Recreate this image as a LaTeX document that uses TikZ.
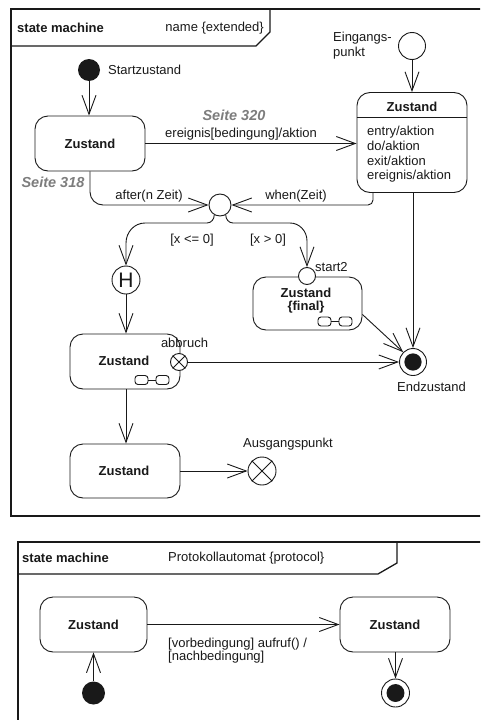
\documentclass[tikz,border=0pt]{standalone}
\usepackage{fontspec}
\setmainfont{Liberation Sans}
\usetikzlibrary{arrows.meta,calc}
\definecolor{ink}{RGB}{25,25,25}
\definecolor{pagegray}{RGB}{125,125,125}

\begin{document}
\begin{tikzpicture}[x=1pt,y=-1pt,
  every node/.style={font=\fontsize{13}{14.5}\selectfont, inner sep=0pt, text=ink},
  wire/.style={draw=ink, line width=0.9pt},
  frame/.style={draw=ink, line width=1.3pt},
  arr/.style={wire, -{Straight Barb[length=19pt,width=14pt]}},
  zstate/.style={wire, rounded corners=13pt, minimum width=#1, minimum height=55pt},
  zstate/.default=110pt,
  bold/.style={font=\bfseries\fontsize{13}{14.5}\selectfont},
  seite/.style={text=pagegray, font=\bfseries\itshape\fontsize{14.5}{16}\selectfont},
  dot/.style={circle, fill=ink, minimum size=#1},
  pseudo/.style={circle, wire, fill=white, minimum size=#1},
  finalst/.style={circle, wire, fill=white, minimum size=#1,
    path picture={\fill[ink] (path picture bounding box.center) circle (#1*0.32);}},
  glasses/.pic={
    \draw[wire, rounded corners=3pt] (-17,-4.5) rectangle (-4,4.5);
    \draw[wire, rounded corners=3pt] (4,-4.5) rectangle (17,4.5);
    \draw[wire] (-4,0) -- (4,0);
  }]
\useasboundingbox (0,0) rectangle (480,720);
\clip (0,0) rectangle (480,720);

% ---------- extended state machine ----------
\draw[frame] (492,9) -- (11,9) -- (11,516) -- (492,516);
\draw[frame] (11,46) -- (256,46) -- (270,32) -- (270,9);
\node[bold, anchor=west] (sm1) at (17,28) {state machine};
\node[anchor=east] (nm1) at (264,28) {name \{extended\}};

% states
\node[dot=22pt] (init) at (89,70) {};
\node[anchor=west] (initl) at (108,70) {Startzustand};
\node[zstate] (z1) at (90,143.5) {}; 
\node[bold] (z1t) at (90,143.5) {Zustand};

\node[zstate=110pt, minimum height=100pt] (z2) at (412,142.5) {};
\draw[wire] (z2.west |- 0,117) -- (z2.east |- 0,117);
\node[bold] (z2t) at (412,107) {Zustand};
\node[anchor=west, align=left, font=\fontsize{13}{14.6}\selectfont] (z2b) at (367,154.5)
  {entry/aktion\\do/aktion\\exit/aktion\\ereignis/aktion};

\node[pseudo=27pt] (ein) at (412,46) {};
\node[anchor=west, align=left, font=\fontsize{13}{15.5}\selectfont] (einl) at (333,45.5) {Eingangs-\\punkt};

\node[pseudo=22pt] (j) at (220,205) {};

\node[pseudo=28pt] (h) at (126,280) {};
\node[font=\fontsize{21}{21}\selectfont] (ht) at (126,280) {H};

\node[zstate=109pt, minimum height=53pt] (zf) at (307.5,303.5) {};
\node[bold, align=center, font=\bfseries\fontsize{13}{13.5}\selectfont] (zft) at (306,300.5) {Zustand\\\{final\}};
\pic at (335,321.5) {glasses};
\node[pseudo=17pt] (s2) at (307,276) {};
\node[anchor=west] (s2l) at (315,267) {start2};

\node[zstate] (z3) at (125,361.5) {};
\node[bold] (z3t) at (124,361) {Zustand};
\pic at (152,380) {glasses};
\node[pseudo=17pt] (ex) at (179,362) {};
\draw[wire] (ex.45) -- (ex.225) (ex.135) -- (ex.315);
\node (exl) at (184.5,343) {abbruch};

\node[zstate, minimum height=54pt] (z4) at (125,471) {};
\node[bold] (z4t) at (124,471) {Zustand};

\node[pseudo=28pt] (aus) at (262,471) {};
\draw[wire] (aus.45) -- (aus.225) (aus.135) -- (aus.315);
\node (ausl) at (288,444) {Ausgangspunkt};

\node[finalst=27pt] (fin) at (413,362) {};
\node[anchor=west] (finl) at (397,387) {Endzustand};

% transitions
\draw[arr] (init) -- (init |- z1.north);
\draw[arr] (z1.east) -- (z2.west |- z1.east);
\node[anchor=west] (e1) at (165,134) {ereignis[bedingung]/aktion};
\node[seite] (p320) at (234,115) {Seite 320};
\node[seite] (p318) at (53,182) {Seite 318};

\draw[arr] (ein) -- (ein |- z2.north);

\coordinate (z1b) at (z1.south);
\draw[arr, rounded corners=13pt] (z1b) |- (j.west);
\node (aft) at (149,196) {after(n Zeit)};

\coordinate (z2b1) at ($(z2.south)+(-39,0)$);
\draw[arr, rounded corners=5pt] (z2b1) |- (j.east);
\node (whn) at (296,196) {when(Zeit)};

\draw[arr] (j.240) to[out=-90,in=0] (207,223) -- (145,223)
  to[out=180,in=90] (126,243) -- (h.north);
\node (g1) at (192,240) {[x <= 0]};

\draw[arr] (j.300) to[out=-90,in=180] (233,223) -- (290,223)
  to[out=0,in=90] (307,241) -- (s2.north);
\node (g2) at (268,240) {[x > 0]};

\draw[arr] (h.south) -- (h |- z3.north);
\draw[arr] (z3.south -| h) -- (z4.north -| h);
\draw[arr] (z4.east) -- (aus.west);
\draw[arr] (ex.east) -- (fin.west);
\draw[arr] (fin |- z2.south) -- (fin.north);
\draw[arr] ($(zf.east)+(0,11)$) -- (fin.135);

% ---------- protocol state machine ----------
\draw[frame] (18,725) -- (18,542) -- (492,542);
\draw[frame] (18,574) -- (378,574) -- (397,563) -- (397,542);
\node[bold, anchor=west] (sm2) at (22,558) {state machine};
\node[anchor=west] (nm2) at (168,558) {Protokollautomat \{protocol\}};

\node[zstate=107pt] (b1) at (93.5,624.5) {};
\node[bold] (b1t) at (93.5,624.5) {Zustand};
\node[zstate=110pt] (b2) at (395,624.5) {};
\node[bold] (b2t) at (395,624.5) {Zustand};

\node[dot=23pt] (binit) at (93.5,693) {};
\node[finalst=28pt] (bfin) at (395.5,693) {};

\draw[arr] (b1.east) -- (b2.west);
\node[anchor=north west, align=left, font=\fontsize{13}{13}\selectfont] (cond) at (168,638)
  {[vorbedingung] aufruf() /\\{}[nachbedingung]};
\draw[arr] (binit.north) -- (binit |- b1.south);
\draw[arr] (bfin |- b2.south) -- (bfin.north);
\end{tikzpicture}
\end{document}
